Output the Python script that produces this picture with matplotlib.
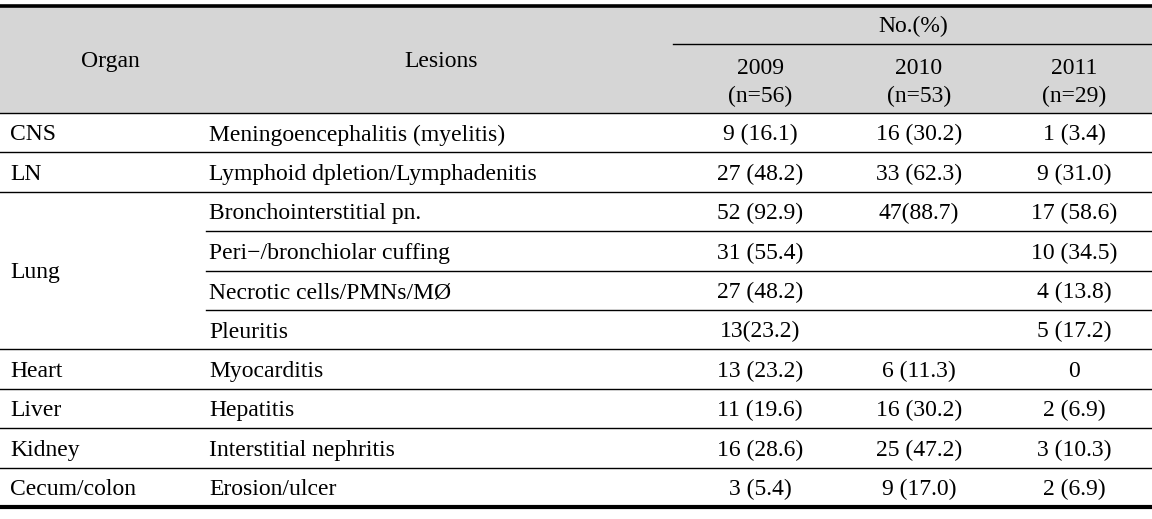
import matplotlib.pyplot as plt
from matplotlib.patches import Rectangle

# table content
organs = ['CNS', 'LN', 'Lung', 'Heart', 'Liver', 'Kidney', 'Cecum/colon']
organ_rows = [1, 1, 4, 1, 1, 1, 1]   # how many lesion rows each organ spans
lesions = ['Meningoencephalitis (myelitis)', 'Lymphoid dpletion/Lymphadenitis',
           'Bronchointerstitial pn.', 'Peri\u2212/bronchiolar cuffing',
           'Necrotic cells/PMNs/M\u00d8', 'Pleuritis', 'Myocarditis', 'Hepatitis',
           'Interstitial nephritis', 'Erosion/ulcer']
years = ['2009', '2010', '2011']
n_total = [56, 53, 29]
n2009 = [9, 27, 52, 31, 27, 13, 13, 11, 16, 3]
p2009 = [16.1, 48.2, 92.9, 55.4, 48.2, 23.2, 23.2, 19.6, 28.6, 5.4]
n2010 = [16, 33, 47, None, None, None, 6, 16, 25, 9]
p2010 = [30.2, 62.3, 88.7, None, None, None, 11.3, 30.2, 47.2, 17.0]
n2011 = [1, 9, 17, 10, 4, 5, 0, 2, 3, 2]
p2011 = [3.4, 31.0, 58.6, 34.5, 13.8, 17.2, None, 6.9, 10.3, 6.9]
# cells printed without a space before the bracket
tight = [(2, 1), (5, 0)]

counts = [n2009, n2010, n2011]
pcts = [p2009, p2010, p2011]

W, H = 1152, 519
fig = plt.figure(figsize=(W / 100, H / 100), dpi=100)
ax = fig.add_axes([0, 0, 1, 1])
ax.set_xlim(0, W)
ax.set_ylim(H, 0)
ax.axis('off')

font = dict(family='Liberation Serif', fontsize=17, color='black', va='baseline')

top, head_bot, bottom = 5.5, 113, 507
row_h = (bottom - head_bot) / len(lesions)
base_off = 27.5      # baseline below the row's top line
col_x = [760, 919, 1074]
organ_x, lesion_x, sub_x = 10, 209, 206

# header
ax.add_patch(Rectangle((0, top), W, head_bot - top, color='#d6d6d6', lw=0))
ax.text(110, 67, 'Organ', ha='center', **font)
ax.text(441, 67, 'Lesions', ha='center', **font)
ax.text(913, 32, 'No.(%)', ha='center', **font)
ax.plot([673, W], [44, 44], color='black', lw=1.0)
for x, yr, n in zip(col_x, years, n_total):
    ax.text(x, 74, yr, ha='center', **font)
    ax.text(x, 102, f'(n={n})', ha='center', **font)

ax.plot([0, W], [top, top], color='black', lw=2.6)
ax.plot([0, W], [head_bot, head_bot], color='black', lw=1.0)

# organ column
r = 0
for org, span in zip(organs, organ_rows):
    y0 = head_bot + r * row_h
    ax.text(organ_x, y0 + span * row_h / 2 + base_off - row_h / 2, org, ha='left', **font)
    r += span
    ax.plot([0, W], [head_bot + r * row_h] * 2, color='black', lw=1.0)

# lesion rows
for i, les in enumerate(lesions):
    yb = head_bot + i * row_h + base_off
    ax.text(lesion_x, yb, les, ha='left', **font)
    if 2 <= i < 5:
        ax.plot([sub_x, W], [head_bot + (i + 1) * row_h] * 2, color='black', lw=1.0)
    for j in range(3):
        n, p = counts[j][i], pcts[j][i]
        if n is None:
            continue
        if p is None:
            s = f'{n}'
        elif (i, j) in tight:
            s = f'{n}({p:.1f})'
        else:
            s = f'{n} ({p:.1f})'
        ax.text(col_x[j], yb, s, ha='center', **font)

ax.plot([0, W], [bottom, bottom], color='black', lw=3.0)

fig.savefig('out.png', dpi=100)
